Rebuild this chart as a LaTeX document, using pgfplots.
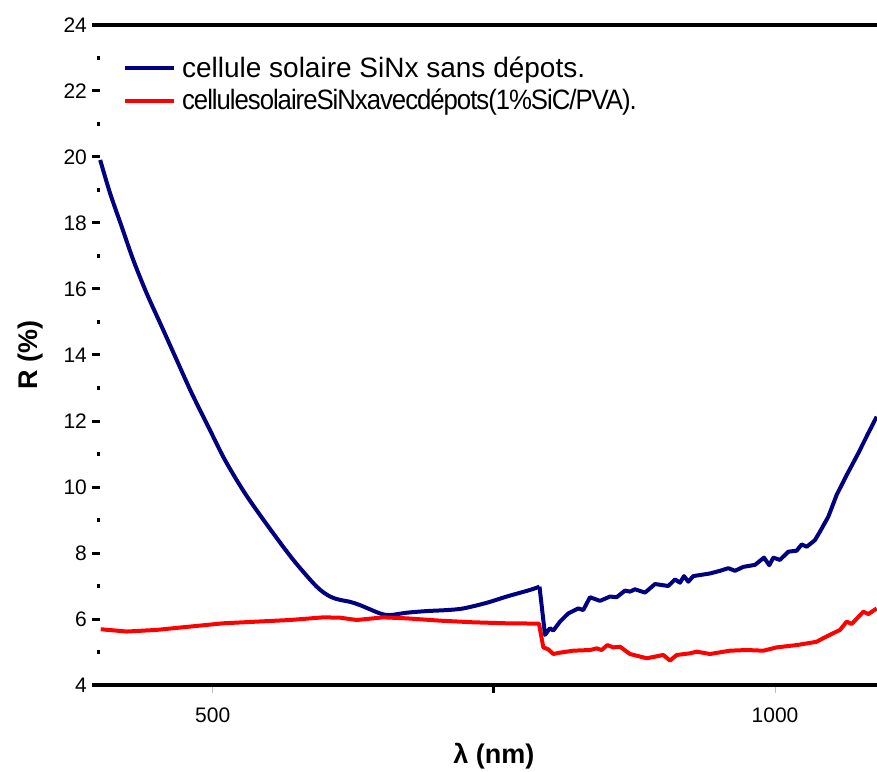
\documentclass[border=0pt]{standalone}
\usepackage{fontspec}
\setmainfont{Liberation Sans}
\usepackage{graphicx}
\usepackage{pgfplots}
\pgfplotsset{compat=1.18}
\definecolor{navyline}{RGB}{0,0,128}
\definecolor{redline}{RGB}{255,0,0}
\begin{document}
\begin{tikzpicture}
\useasboundingbox (0,0) rectangle (438.5pt,385.5pt);
\begin{axis}[
  at={(50.1pt,43pt)}, anchor=south west,
  scale only axis, width=388.4pt, height=330pt,
  xmin=400, xmax=1090.7, ymin=4, ymax=24,
  clip=false,
  axis line style={draw=none},
  tick pos=left, tick align=outside,
  xtick={500,1000}, xticklabels={500,1000},
  extra x ticks={750}, extra x tick labels={},
  extra x tick style={every major x tick/.append style={line width=1.5pt, black}},
  ytick={4,6,...,24},
  minor ytick={5,7,...,23},
  major tick length=4pt, minor tick length=1.8pt,
  every major x tick/.append style={line width=0.4pt, black!25},
  every major y tick/.append style={line width=1.5pt, black},
  every minor y tick/.append style={line width=1.6pt, black},
  /pgf/number format/assume math mode=true,
  tick label style={font=\fontsize{10.5}{12}\selectfont},
  yticklabel style={anchor=east, inner sep=0pt, xshift=-2.45pt},
  xticklabel style={anchor=base, inner sep=0pt, yshift=-14.85pt},
  xlabel={λ (nm)}, ylabel={R (\%)},
  every axis x label/.style={at={(axis description cs:0.5067,0)}, yshift=-39pt, anchor=base,
    font=\bfseries\fontsize{13.5}{16}\selectfont},
  every axis y label/.style={at={(axis description cs:0,0.5)}, xshift=-35pt, rotate=90, anchor=center,
    font=\bfseries\fontsize{13.5}{16}\selectfont},
  legend style={draw=none, fill=none, at={(axis description cs:0,1)}, anchor=north west,
    xshift=11.3pt, yshift=-16.15pt, inner sep=0pt, outer sep=0pt,
    row sep=3.35pt, column sep=3.15pt, font=\fontsize{14}{16}\selectfont,
    nodes={inner sep=0pt, text height=10pt, text depth=3pt}},
  legend cell align=left,
  legend image code/.code={\draw[#1] (0pt,0.9pt) -- (24.5pt,0.9pt);},
]
% reflectance of the bare SiNx cell: smooth decay down to the detector change
\addplot[navyline, line width=2pt, smooth, tension=0.5, line join=round] coordinates {
(400,19.91)(408.7,18.91)(419.1,17.89)(429.4,16.88)(441.3,15.87)(454.7,14.86)
(468.0,13.85)(481.4,12.84)(496.1,11.83)(510.9,10.82)(528.7,9.81)(549.5,8.80)
(571.7,7.79)(592.5,6.98)(604.4,6.68)(613.3,6.58)(622.1,6.52)(631.0,6.42)
(648.8,6.17)(657.7,6.12)(672.5,6.19)(690.3,6.24)(708.1,6.27)(722.8,6.32)
(743.6,6.49)(761.4,6.68)(782.1,6.88)(790.6,6.98)
};
\addlegendentry{cellule solaire SiNx sans dépots.}
% red: reflectance after the 1% SiC/PVA coating
\addplot[redline, line width=2pt, line join=round] coordinates {
(400.5,5.69)(423.6,5.62)(450.2,5.67)(479.8,5.77)(509.5,5.87)(539.1,5.92)
(568.8,5.97)(598.4,6.05)(613.2,6.04)(628.1,5.97)(651.7,6.05)(672.5,6.02)
(702.1,5.95)(731.7,5.90)(761.4,5.87)(790.1,5.86)(794.0,5.14)(798.4,5.08)
(802.9,4.94)(808.8,4.98)(820.6,5.04)(835.5,5.06)(841.4,5.11)(845.9,5.06)
(850.9,5.21)(856.2,5.14)(862.2,5.16)(871.0,4.94)(885.9,4.81)(900.7,4.91)
(906.6,4.74)(912.6,4.91)(924.4,4.96)(930.4,5.01)(942.2,4.94)(960.0,5.04)
(974.8,5.06)(989.6,5.04)(1001.5,5.14)(1019.3,5.21)(1037.0,5.31)(1042.9,5.42)
(1057.8,5.67)(1063.7,5.92)(1068.2,5.85)(1078.5,6.22)(1083.0,6.15)(1090.4,6.32)
};
\addlegendentry{\scalebox{0.92}[1]{\addfontfeatures{LetterSpace=-4}cellulesolaireSiNxavecdépots(1\%SiC/PVA).}}
% bare cell, near infrared part after the jump
\addplot[navyline, line width=2pt, line join=round, forget plot] coordinates {
(790.6,6.98)(795.5,5.52)(799.9,5.72)
(802.9,5.65)(808.8,5.92)(816.2,6.17)(825.1,6.32)(829.5,6.27)(835.5,6.66)
(844.4,6.55)(853.3,6.68)(859.2,6.66)(866.6,6.86)(871.0,6.83)(875.5,6.90)
(884.4,6.80)(893.3,7.06)(905.1,7.00)(911.1,7.20)(915.5,7.10)(919.1,7.30)
(922.9,7.13)(927.3,7.30)(942.2,7.38)(951.1,7.46)(958.5,7.54)(964.4,7.46)
(971.8,7.58)(982.2,7.64)(990.2,7.86)(994.9,7.63)(998.5,7.86)(1004.4,7.79)
(1011.8,8.04)(1019.3,8.07)(1023.7,8.26)(1028.2,8.19)(1035.5,8.39)(1040.0,8.65)
(1047.4,9.10)(1054.8,9.76)(1063.7,10.36)(1074.0,11.02)(1082.9,11.63)(1090.4,12.13)
};
% top and bottom frame lines, running slightly past the left edge
\draw[line width=2pt] ([xshift=-4.25pt]rel axis cs:0,0) -- (rel axis cs:1,0);
\draw[line width=2pt] ([xshift=-4.25pt]rel axis cs:0,1) -- (rel axis cs:1,1);
\end{axis}
\end{tikzpicture}
\end{document}
